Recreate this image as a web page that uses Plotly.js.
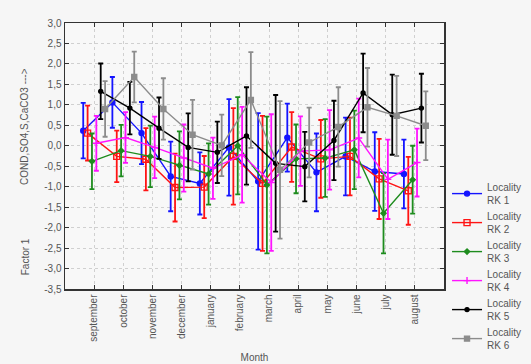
<!DOCTYPE html>
<html>
<head>
<meta charset="utf-8">
<script src="https://cdn.plot.ly/plotly-3.0.1.min.js"></script>
<style>html,body{margin:0;padding:0;background:#f6f6f6;}#chart{width:531px;height:364px;}</style>
</head>
<body>
<div id="chart"></div>
<script>
const months = ["september","october","november","december","january","february","march","april","may","june","july","august"];
const yTickVals = [3.0,2.5,2.0,1.5,1.0,0.5,0.0,-0.5,-1.0,-1.5,-2.0,-2.5,-3.0,-3.5];
const yTickText = ["3,0","2,5","2,0","1,5","1,0","0,5","0,0","-0,5","-1,0","-1,5","-2,0","-2,5","-3,0","-3,5"];
const seriesNames = ["Locality<br>RK 1","Locality<br>RK 2","Locality<br>RK 3","Locality<br>RK 4","Locality<br>RK 5","Locality<br>RK 6"];

const rk1 = [0.37, 1.06, 0.31, -0.75, -0.92, -0.04, -0.87, 0.20, -0.65, -0.26, -0.63, -0.69];
const rk2 = [0.31, -0.26, -0.33, -1.02, -1.01, -0.26, -0.92, -0.03, -0.32, -0.26, -0.81, -1.10];
const rk3 = [-0.38, -0.12, -0.26, -0.48, -0.69, 0.00, -0.96, -0.32, -0.30, -0.10, -1.65, -0.83];
const rk4 = [0.06, 0.20, -0.04, -0.30, -0.55, -0.22, -0.90, -0.13, -0.10, 0.19, -0.82, -0.41];
const rk5 = [1.33, 0.92, 0.43, -0.04, -0.16, 0.24, -0.43, -0.51, 0.13, 1.29, 0.76, 0.92];
const rk6 = [0.90, 1.68, 0.90, 0.27, 0.01, 1.12, -0.59, 0.08, 0.46, 0.94, 0.73, 0.49];

const err1 = [0.68, 0.62, 0.76, 0.85, 0.76, 1.18, 1.67, 0.83, 0.95, 0.95, 0.96, 0.84];
const err2 = [0.67, 0.63, 0.76, 0.83, 0.76, 1.18, 1.65, 0.85, 0.95, 0.95, 0.98, 0.83];
const err3 = [0.68, 0.63, 0.75, 0.83, 0.75, 1.19, 1.67, 0.84, 0.95, 0.96, 0.98, 0.83];
const err4 = [0.67, 0.62, 0.75, 0.82, 0.75, 1.17, 1.67, 0.85, 0.97, 0.96, 0.97, 0.83];
const err5 = [0.68, 0.64, 0.75, 0.83, 0.75, 1.19, 1.67, 0.85, 0.97, 0.96, 0.98, 0.84];
const err6 = [0.68, 0.62, 0.75, 0.85, 0.75, 1.17, 1.68, 0.85, 0.97, 0.96, 0.98, 0.84];

const values = [rk1, rk2, rk3, rk4, rk5, rk6];
const errors = [err1, err2, err3, err4, err5, err6];
const colors = ["#1414ff", "#ff1414", "#1e8c1e", "#ff14ff", "#000000", "#8c8c8c"];
const symbols = ["circle", "square-open", "diamond", "cross-thin-open", "circle", "square"];
const sizes = [5, 6, 4, 5, 4, 5];
const offsets = [-2.5, -1.5, -0.5, 0.5, 1.5, 2.5];
const dodge = 0.15;

const traces = values.map((v, s) => ({
  type: "scatter",
  mode: "lines+markers",
  name: seriesNames[s],
  x: months.map((m, i) => i + offsets[s] * dodge),
  y: v,
  line: {color: colors[s], width: 1.4},
  marker: {color: colors[s], symbol: symbols[s], size: sizes[s], line: {color: colors[s], width: 1.4}},
  error_y: {type: "data", array: errors[s], visible: true, color: colors[s], thickness: 1.8, width: 2.5}
}));

const layout = {
  width: 531, height: 364,
  paper_bgcolor: "#f6f6f6",
  plot_bgcolor: "#f8f8f8",
  margin: {l: 65, r: 87, t: 23, b: 75, autoexpand: false},
  showlegend: true,
  font: {family: "Liberation Sans, Arial, sans-serif", size: 10, color: "#555"},
  xaxis: {
    automargin: false,
    range: [-1, 12],
    tickmode: "array",
    tickvals: months.map((m, i) => i),
    ticktext: months,
    tickangle: -90,
    tickfont: {size: 10, color: "#555"},
    ticks: "inside", ticklen: 4, tickcolor: "#333",
    showline: true, linecolor: "#333", linewidth: 1.5, mirror: "ticks",
    showgrid: true, gridcolor: "#d0d0d0", griddash: "dot", gridwidth: 1,
    zeroline: false,
    title: {text: "Month", font: {size: 10, color: "#555"}, standoff: 13}
  },
  yaxis: {
    automargin: false,
    range: [-3.5, 3.0],
    tickmode: "array",
    tickvals: yTickVals,
    ticktext: yTickText,
    tickfont: {size: 10, color: "#555"},
    ticks: "inside", ticklen: 4, tickcolor: "#333",
    showline: true, linecolor: "#333", linewidth: 1.5, mirror: "ticks",
    showgrid: true, gridcolor: "#d0d0d0", griddash: "dot", gridwidth: 1,
    zeroline: false
  },
  legend: {
    x: 1.008, xanchor: "left", y: 0.432, yanchor: "top",
    bgcolor: "rgba(0,0,0,0)",
    font: {size: 10, color: "#555"},
    itemwidth: 30, tracegroupgap: 0
  },
  annotations: [
    {text: "COND,SO4,S,CaCO3 --->", xref: "paper", yref: "paper", x: -0.105, y: 0.61, xanchor: "center", yanchor: "middle", textangle: -90, showarrow: false, font: {size: 10, color: "#555"}},
    {text: "Factor 1", xref: "paper", yref: "paper", x: -0.105, y: 0.12, xanchor: "center", yanchor: "middle", textangle: -90, showarrow: false, font: {size: 10, color: "#555"}}
  ]
};

Plotly.newPlot("chart", traces, layout, {displayModeBar: false, staticPlot: true});
</script>
</body>
</html>
